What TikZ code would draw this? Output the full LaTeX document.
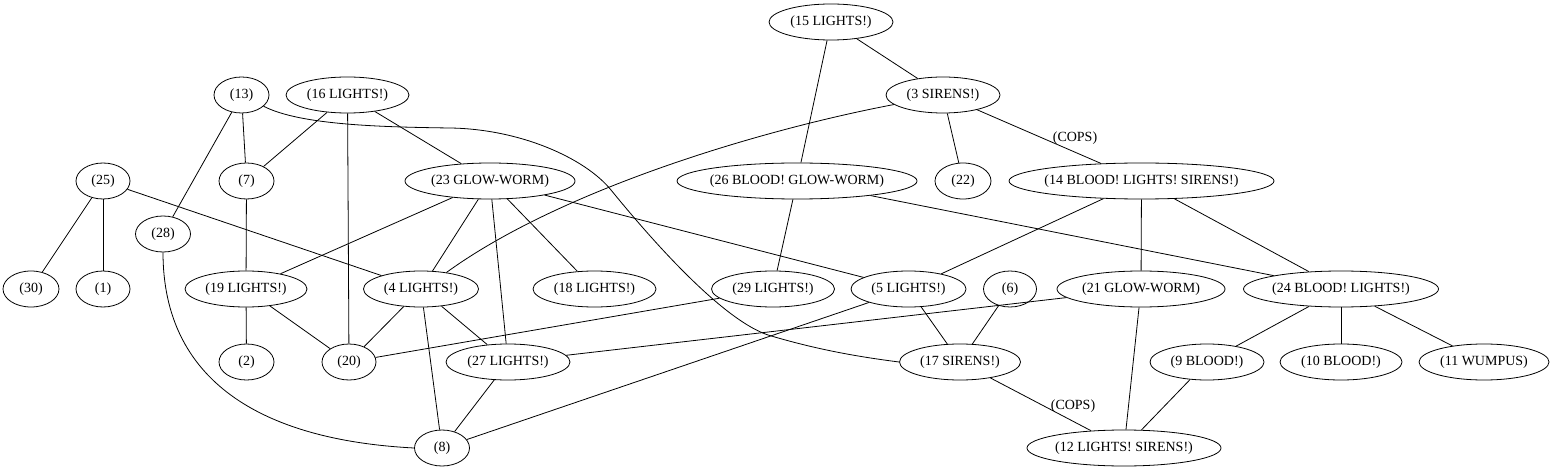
\documentclass[tikz,border=0pt]{standalone}
\usepackage{fontspec}
\setmainfont{Liberation Serif}
\usetikzlibrary{shapes.geometric}
\tikzset{
  gnode/.style={ellipse, draw, line width=0.8pt, inner sep=0pt, minimum height=36pt,
    font=\fontsize{14}{16}\selectfont},
  edge/.style={line width=0.8pt},
  lbl/.style={inner sep=0pt, font=\fontsize{14}{16}\selectfont}
}
\newcommand\GNode[4]{\node[gnode, minimum width=#4pt] (#1) at (#2) {\makebox[0pt]{#3}};}
\begin{document}
\begin{tikzpicture}[x=1pt,y=-1pt]
\useasboundingbox (0,0) rectangle (1554,470);
\GNode{n15}{831,22}{(15 LIGHTS!)}{124}
\GNode{n3}{943,95}{(3 SIRENS!)}{114}
\GNode{n13}{241.5,95}{(13)}{55}
\GNode{n16}{347.5,95}{(16 LIGHTS!)}{123}
\GNode{n25}{103,181}{(25)}{54}
\GNode{n7}{246.5,181}{(7)}{55}
\GNode{n23}{490,181}{(23 GLOW-WORM)}{170}
\GNode{n26}{797,181}{(26 BLOOD! GLOW-WORM)}{240}
\GNode{n22}{963,181}{(22)}{56}
\GNode{n14}{1141.5,181}{(14 BLOOD! LIGHTS! SIRENS!)}{265}
\GNode{n28}{163,234}{(28)}{55}
\GNode{n30}{31,289}{(30)}{56}
\GNode{n1}{103,289}{(1)}{54}
\GNode{n19}{246,289}{(19 LIGHTS!)}{122}
\GNode{n4}{421,289}{(4 LIGHTS!)}{115}
\GNode{n18}{594.5,289}{(18 LIGHTS!)}{123}
\GNode{n29}{773,289}{(29 LIGHTS!)}{123}
\GNode{n5}{908.5,289}{(5 LIGHTS!)}{115}
\GNode{n6}{1010,289}{(6)}{53}
\GNode{n21}{1141,289}{(21 GLOW-WORM)}{168}
\GNode{n24}{1341,289}{(24 BLOOD! LIGHTS!)}{195}
\GNode{n2}{246.5,362}{(2)}{55}
\GNode{n20}{349,362}{(20)}{54}
\GNode{n27}{508,362}{(27 LIGHTS!)}{124}
\GNode{n17}{960,362}{(17 SIRENS!)}{121}
\GNode{n9}{1207,362}{(9 BLOOD!)}{114}
\GNode{n10}{1341,362}{(10 BLOOD!)}{122}
\GNode{n11}{1484,362}{(11 WUMPUS)}{130}
\GNode{n8}{442,448}{(8)}{55}
\GNode{n12}{1124,448}{(12 LIGHTS! SIRENS!)}{194}
\node[lbl] (copsA) at (1075,138) {(COPS)};
\node[lbl] (copsB) at (1073,406) {(COPS)};
\begin{scope}[edge]
\draw (n15) -- (n3);
\draw (n15) -- (n26);
\draw (n3.191) .. controls (760,130) and (560,190) .. (n4.33);
\draw (n3) -- (n22);
\draw (n3) -- (n14);
\draw (n13) -- (n7);
\draw (n13) -- (n28);
\draw (n13.-27) .. controls (300,125) and (380,127) .. (450,128)
  .. controls (520,129) and (585,158) .. (611,190)
  .. controls (642,228) and (718,318) .. (768,335)
  .. controls (818,350) and (860,357) .. (n17.west);
\draw (n16) -- (n7);
\draw (n16) -- (n20);
\draw (n16) -- (n23);
\draw (n25) -- (n30);
\draw (n25) -- (n1);
\draw (n25) -- (n4);
\draw (n7) -- (n19);
\draw (n23) -- (n19);
\draw (n23) -- (n4);
\draw (n23) -- (n27);
\draw (n23) -- (n18);
\draw (n23) -- (n5);
\draw (n26) -- (n29);
\draw (n26) -- (n24);
\draw (n14) -- (n5);
\draw (n14) -- (n21);
\draw (n14) -- (n24);
\draw (n28.south) .. controls (163,380) and (260,440) .. (n8.west);
\draw (n19) -- (n2);
\draw (n19) -- (n20);
\draw (n4) -- (n20);
\draw (n4) -- (n27);
\draw (n4) -- (n8);
\draw (n29) -- (n20);
\draw (n5) -- (n17);
\draw (n5) -- (n8);
\draw (n6) -- (n17);
\draw (n21) -- (n27);
\draw (n21) -- (n12);
\draw (n24) -- (n9);
\draw (n24) -- (n10);
\draw (n24) -- (n11);
\draw (n27) -- (n8);
\draw (n17) -- (n12);
\draw (n9) -- (n12);
\end{scope}
\end{tikzpicture}
\end{document}
